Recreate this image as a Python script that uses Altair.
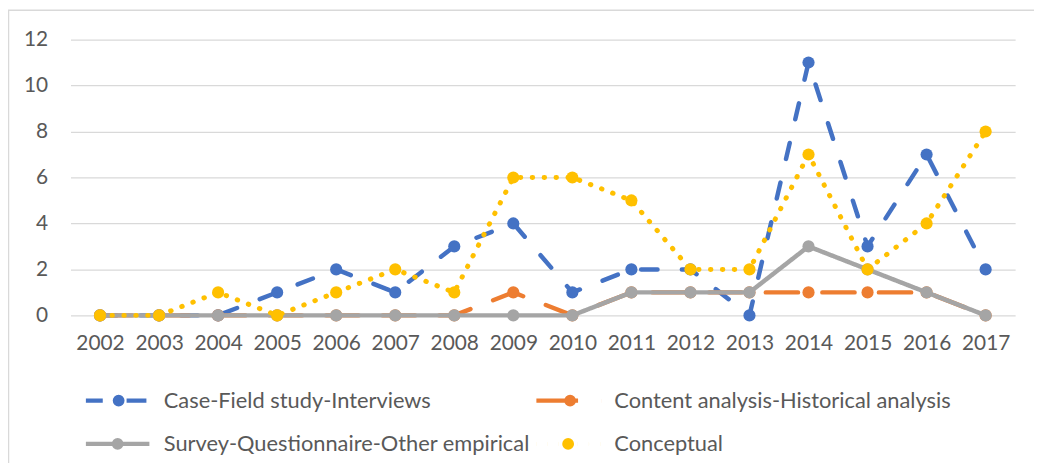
import altair as alt
import pandas as pd

years = [str(y) for y in range(2002, 2018)]
series_names = [
    "Case-Field study-Interviews",
    "Content analysis-Historical analysis",
    "Survey-Questionnaire-Other empirical",
    "Conceptual",
]
case_field = [0, 0, 0, 1, 2, 1, 3, 4, 1, 2, 2, 0, 11, 3, 7, 2]
content_analysis = [0, 0, 0, 0, 0, 0, 0, 1, 0, 1, 1, 1, 1, 1, 1, 0]
survey = [0, 0, 0, 0, 0, 0, 0, 0, 0, 1, 1, 1, 3, 2, 1, 0]
conceptual = [0, 0, 1, 0, 1, 2, 1, 6, 6, 5, 2, 2, 7, 2, 4, 8]
colors = ["#4472C4", "#ED7D31", "#A5A5A5", "#FFC000"]
y_ticks = [0, 2, 4, 6, 8, 10, 12]

values = [case_field, content_analysis, survey, conceptual]
rows = []
for name, vals in zip(series_names, values):
    for yr, v in zip(years, vals):
        rows.append({"year": yr, "series": name, "value": v})
df = pd.DataFrame(rows)

W, H = 952, 278
FONT = "Lato"
TXT = "#595959"

dashes = [[16.5, 24.5], [32.5, 24.5], [1, 0], [0.5, 11.5]]
widths = [4.5, 4.5, 4.5, 5]

# legend symbol paths (unit = 10 px); drawn to the left of the symbol anchor
HALF = 10.0
def p(v):
    return f"{v / HALF:.4f}"

def circ(cx, r=3.7):
    return (f"M{p(cx + r)},0A{p(r)},{p(r)} 0 1,1 {p(cx - r)},0"
            f"A{p(r)},{p(r)} 0 1,1 {p(cx + r)},0Z")
def seg(a, b):
    return f"M{p(a)},0L{p(b)},0"
def dot(x):
    return seg(x, x + 0.05)
shapes = [
    seg(-64, -47) + seg(-23, -3) + circ(-31),
    seg(-64, -22) + dot(1.5) + circ(-30),
    seg(-64, 0) + circ(-32),
    "".join(dot(x) for x in [-64, -52.5, -41.5, -22.5, -11, 0.5]) + circ(-32),
]
shape_expr = (
    f"datum.value === '{series_names[0]}' ? '{shapes[0]}' : "
    f"datum.value === '{series_names[1]}' ? '{shapes[1]}' : "
    f"datum.value === '{series_names[2]}' ? '{shapes[2]}' : "
    f"'{shapes[3]}'"
)
color_expr = "scale('color', datum.value)"

legend = alt.Legend(
    title=None,
    orient="none",
    direction="horizontal",
    legendX=67,
    legendY=351,
    columns=2,
    padding=0,
    symbolType=alt.ExprRef(expr=shape_expr),
    symbolFillColor=alt.ExprRef(expr=color_expr),
    symbolStrokeColor=alt.ExprRef(expr=color_expr),
    symbolSize=int((2 * HALF) ** 2),
    symbolStrokeWidth=4.5,
    symbolOpacity=1,
    labelFont=FONT,
    labelFontSize=22,
    labelColor=TXT,
    labelOffset=2,
    labelLimit=800,
    rowPadding=17,
    columnPadding=-4,
)

x_enc = alt.X(
    "year:O",
    sort=years,
    scale=alt.Scale(type="point", padding=0.5),
    axis=alt.Axis(
        title=None, domain=False, ticks=False, grid=False, labelAngle=0,
        labelFont=FONT, labelFontSize=21, labelColor=TXT, labelPadding=17,
    ),
)
y_enc = alt.Y(
    "value:Q",
    scale=alt.Scale(domain=[0, 12], nice=False, zero=True),
    axis=alt.Axis(
        title=None, domain=False, ticks=False, values=y_ticks, grid=True,
        gridColor="#D9D9D9", gridWidth=1.3, labelFont=FONT, labelFontSize=21,
        labelColor=TXT, labelPadding=23,
    ),
)
color_enc = alt.Color(
    "series:N", scale=alt.Scale(domain=series_names, range=colors), legend=legend
)

border = alt.Chart(pd.DataFrame({"a": [0]})).mark_rect(
    fillOpacity=0, stroke="#D9D9D9", strokeWidth=1.5
).encode(
    x=alt.value(-62.5), x2=alt.value(W + 40), y=alt.value(-29.5), y2=alt.value(H + 200)
)

layers = [border]
for i, name in enumerate(series_names):
    base = alt.Chart(df).transform_filter(alt.datum.series == name)
    line = base.mark_line(
        stroke=colors[i], strokeWidth=widths[i], strokeDash=dashes[i],
        strokeCap="round", strokeJoin="round",
    ).encode(x=x_enc, y=y_enc)
    pts = base.mark_circle(size=150, opacity=1).encode(x=x_enc, y=y_enc, color=color_enc)
    layers += [line, pts]

chart = alt.layer(*layers).properties(
    width=W,
    height=H,
    autosize=alt.AutoSizeParams(type="none"),
    padding={"left": 63, "top": 30, "right": 19, "bottom": 147},
).configure_view(stroke=None)

chart.save("out.html", embed_options={"renderer": "svg", "actions": False})
